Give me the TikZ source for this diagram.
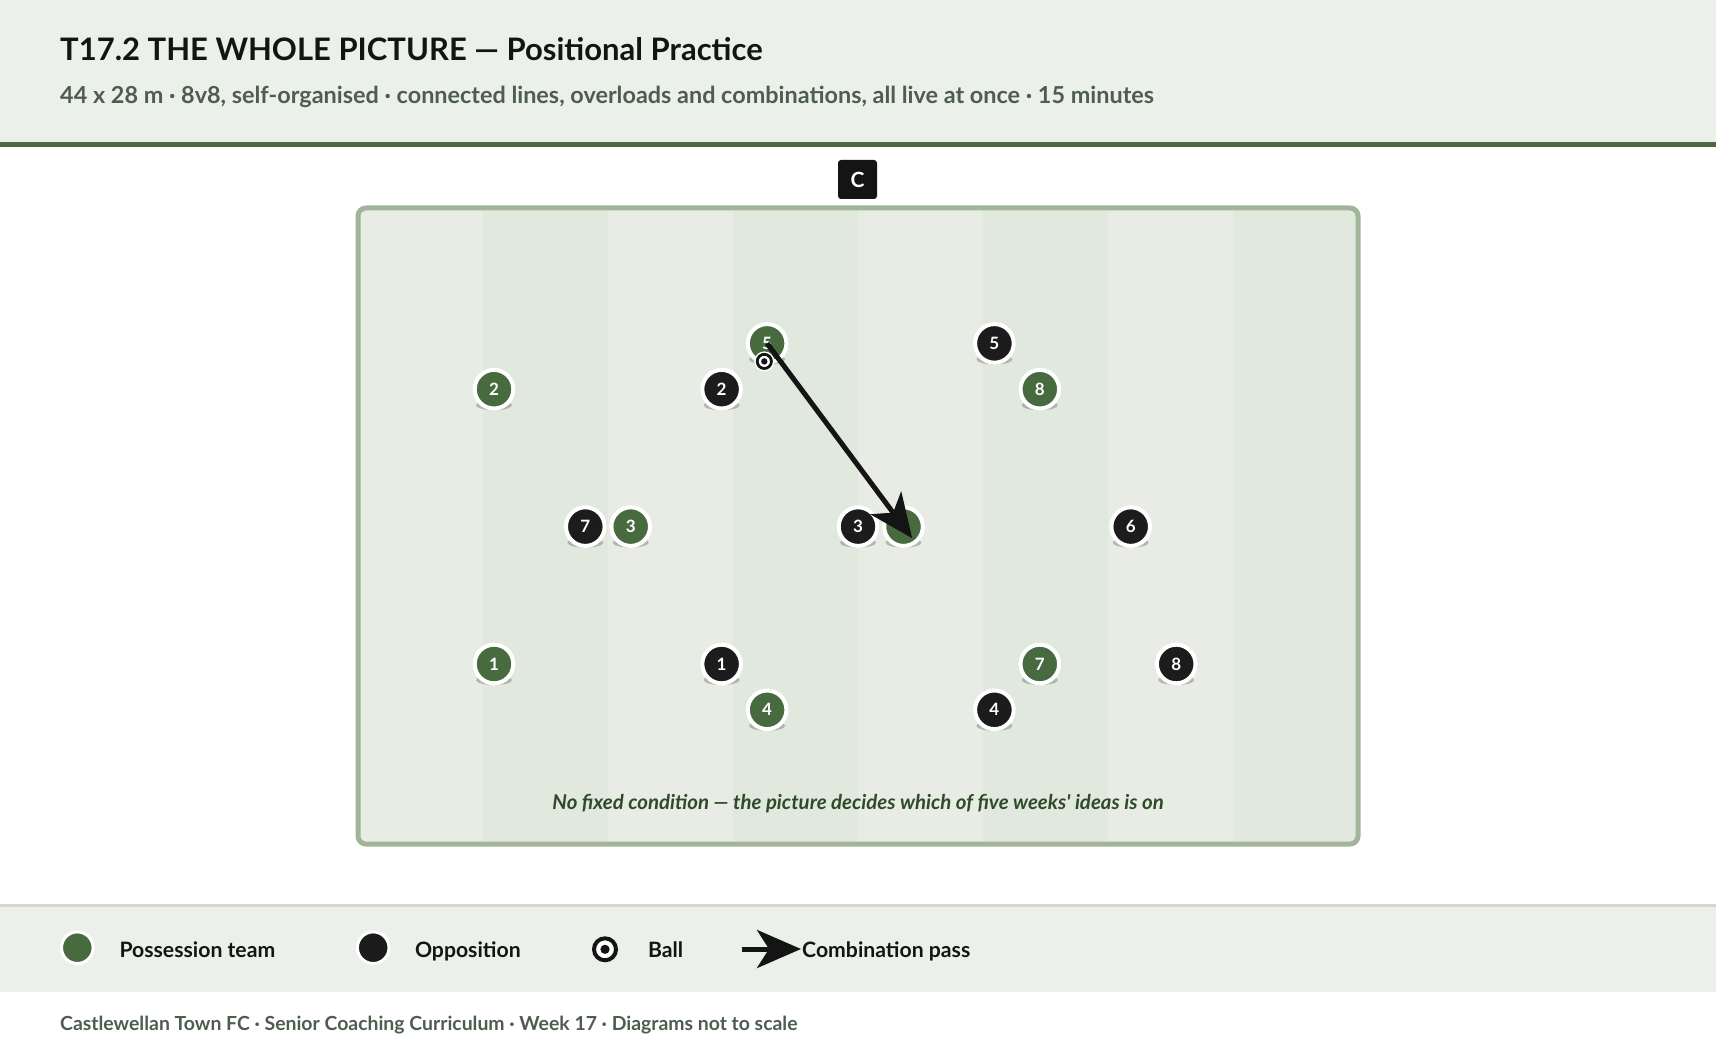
\documentclass[tikz,border=0pt]{standalone}
\usepackage{fontspec}
\setmainfont{Lato}
\newfontfamily\capfont{Lato}[Ligatures=TeXOff]
\usetikzlibrary{arrows.meta,calc}
\definecolor{hdrbg}{HTML}{ECF0EB}
\definecolor{hdrline}{HTML}{4A6B40}
\definecolor{posc}{HTML}{476B3F}
\definecolor{oppc}{HTML}{1C1C1C}
\definecolor{subc}{HTML}{4E5D4E}
\definecolor{capc}{HTML}{2F4A2B}
\definecolor{stripeA}{HTML}{E8ECE5}
\definecolor{stripeB}{HTML}{E1E8DE}
\definecolor{pitchline}{HTML}{A2B59B}
\definecolor{sepc}{HTML}{D5D6CE}
\definecolor{inkc}{HTML}{141414}
\newcommand\fsz[1]{\fontsize{#1}{#1}\selectfont}
\newcommand\plr[5]{%
  \fill[black,opacity=.22] (#2,#3+16) ellipse [x radius=18pt, y radius=5pt];
  \node[#4] (#1) at (#2,#3) {#5};}
\begin{document}
\begin{tikzpicture}[x=1pt,y=-1pt,
  player/.style={circle, minimum size=38.6pt, inner sep=0pt, draw=white, line width=4pt, text=white, font=\bfseries\fsz{17}},
  poss/.style={player, fill=posc},
  opp/.style={player, fill=oppc},
  legdot/.style={circle, minimum size=31.6pt, inner sep=0pt, draw=white, line width=3pt},
  passarrow/.style={draw=inkc, line width=5pt, -{Stealth[length=44pt,width=38pt,inset=12pt]}},
  legtext/.style={anchor=base west, inner sep=0pt, text=inkc, font=\bfseries\fsz{21.2}},
]
% canvas
\fill[white] (0,0) rectangle (1716,1048);
\useasboundingbox (0,0) rectangle (1716,1048);
% header
\fill[hdrbg] (0,0) rectangle (1716,142);
\fill[hdrline] (0,142) rectangle (1716,147);
\node[anchor=base west, inner sep=0pt, text=inkc, font=\bfseries\fsz{31}] (ttl) at (60,60.5) {T17.2 THE WHOLE PICTURE — Positional Practice};
\node[anchor=base west, inner sep=0pt, text=subc, font=\bfseries\fsz{23.4}] (sub) at (60,103.8) {44 x 28 m · 8v8, self-organised · connected lines, overloads and combinations, all live at once · 15 minutes};
% pitch
\begin{scope}
  \clip[rounded corners=8pt] (358,208) rectangle (1358,844);
  \foreach \i in {0,...,7} {
    \pgfmathtruncatemacro\sparity{mod(\i,2)}
    \ifnum\sparity=0 \def\sc{stripeA}\else\def\sc{stripeB}\fi
    \fill[\sc] (358+125*\i,208) rectangle (358+125*\i+125,844);
  }
\end{scope}
\draw[pitchline, line width=5pt, rounded corners=8pt] (358,208) rectangle (1358,844);
\node[fill=inkc, rounded corners=3pt, minimum size=39pt, inner sep=0pt, text=white, font=\bfseries\fsz{21}] (coach) at (857.5,179.5) {C};
\node[anchor=base, inner sep=0pt, text=capc, font=\capfont\bfseries\itshape\fsz{20.4}] (cap) at (858,809) {No fixed condition — the picture decides which of five weeks' ideas is on};
% players
\plr{g2}{494}{389.2}{poss}{2}
\plr{g8}{1039.8}{389.2}{poss}{8}
\plr{g3}{630.7}{526.6}{poss}{3}
\plr{g6}{903.5}{526.6}{poss}{}
\plr{g1}{494}{664}{poss}{1}
\plr{g4}{767.1}{709.8}{poss}{4}
\plr{g7}{1039.8}{664}{poss}{7}
\plr{o5}{994.4}{343.4}{opp}{5}
\plr{o2}{721.6}{389.2}{opp}{2}
\plr{o7}{585.3}{526.6}{opp}{7}
\plr{o3}{858}{526.6}{opp}{3}
\plr{o6}{1130.7}{526.6}{opp}{6}
\plr{o1}{721.6}{664}{opp}{1}
\plr{o4}{994.4}{709.8}{opp}{4}
\plr{o8}{1176.2}{664}{opp}{8}
\plr{g5}{767.1}{343.4}{poss}{5}
% ball
\coordinate (ball) at ($(g5.center)+(-2.8,18)$);
\fill[white] (ball) circle (10pt);
\draw[inkc, fill=white, line width=2.8pt] (ball) circle (7.1pt);
\fill[inkc] (ball) circle (3.2pt);
% pass
\draw[passarrow] (g5.center) -- ($(g6.center)!-14.6pt!(g5.center)$);
% legend
\fill[sepc] (0,904) rectangle (1716,907);
\fill[hdrbg] (0,907) rectangle (1716,992);
\node[legdot, fill=posc] (lgp) at (77.3,947.7) {};
\node[legtext] (lgpt) at (119.3,957.2) {Possession team};
\node[legdot, fill=oppc] (lgo) at (373.2,947.7) {};
\node[legtext] (lgot) at (414.8,957.2) {Opposition};
\node[circle, minimum size=22pt, inner sep=0pt, draw=inkc, line width=4pt, fill=white] (lgb) at (605,949.3) {};
\fill[inkc] (lgb.center) circle (4.6pt);
\node[legtext] (lgbt) at (647.9,957.2) {Ball};
\coordinate (la0) at (741.7,949);
\coordinate (la1) at (801,949);
\draw[passarrow] (la0) -- (la1);
\node[legtext] (lgat) at (802,957.2) {Combination pass};
% footer
\node[anchor=base west, inner sep=0pt, text=subc, font=\bfseries\fsz{19.4}] (foot) at (60,1030) {Castlewellan Town FC · Senior Coaching Curriculum · Week 17 · Diagrams not to scale};
\end{tikzpicture}
\end{document}
